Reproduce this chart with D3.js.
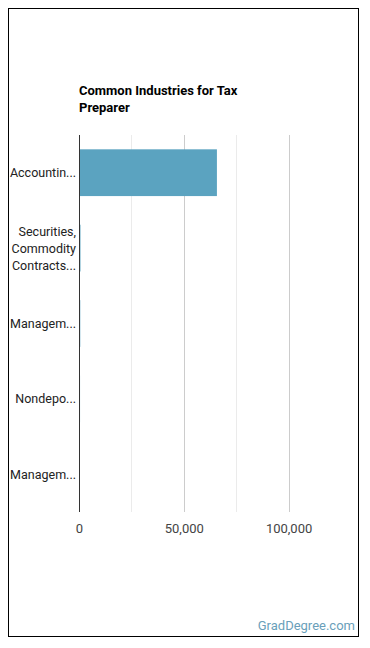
<!DOCTYPE html>
<html>
<head>
<meta charset="utf-8">
<script src="https://cdn.jsdelivr.net/npm/d3@7"></script>
<style>
	body { margin: 0; background: #fff; }
	svg { font-family: Roboto, "Noto Sans", sans-serif; }
</style>
</head>
<body>
<svg width="370" height="648"></svg>
<script>
var industries = [
	["Accountin..."],
	["Securities,", "Commodity", "Contracts..."],
	["Managem..."],
	["Nondepo..."],
	["Managem..."]
];
var workers = [65800, 700, 600, 500, 450];
var majorTicks = [0, 50000, 100000];
var minorTicks = [25000, 75000];

var svg = d3.select("svg");

// frame
svg.append("rect")
	.attr("x", 8.5).attr("y", 8.5)
	.attr("width", 350).attr("height", 628)
	.attr("fill", "#fff").attr("stroke", "#000").attr("stroke-width", 1);

var margin = { top: 135, left: 79 },
	width = 262,
	height = 377;

var g = svg.append("g").attr("transform", "translate(" + margin.left + "," + margin.top + ")");

var x = d3.scaleLinear().domain([0, 125000]).range([0, width]);
var y = d3.scaleBand().domain(d3.range(industries.length)).range([0, height]).paddingInner(0.38).paddingOuter(0.19);

// title
svg.append("text").attr("x", 79).attr("y", 95)
	.attr("font-size", "13px").attr("font-weight", "bold").attr("fill", "#000")
	.text("Common Industries for Tax");
svg.append("text").attr("x", 79).attr("y", 112)
	.attr("font-size", "13px").attr("font-weight", "bold").attr("fill", "#000")
	.text("Preparer");

// gridlines
g.selectAll(".minor")
	.data(minorTicks)
	.enter()
	.append("line")
	.attr("x1", function (d) { return Math.round(x(d)) + 0.5 })
	.attr("x2", function (d) { return Math.round(x(d)) + 0.5 })
	.attr("y1", 0).attr("y2", height)
	.attr("stroke", "#ebebeb");

g.selectAll(".major")
	.data(majorTicks.slice(1))
	.enter()
	.append("line")
	.attr("x1", function (d) { return Math.round(x(d)) + 0.5 })
	.attr("x2", function (d) { return Math.round(x(d)) + 0.5 })
	.attr("y1", 0).attr("y2", height)
	.attr("stroke", "#cccccc");

// bars
g.selectAll(".bar")
	.data(workers)
	.enter()
	.append("rect")
	.attr("x", x(0))
	.attr("y", function (d, i) { return y(i) })
	.attr("width", function (d) { return Math.max(1, x(d) - x(0)) })
	.attr("height", y.bandwidth())
	.attr("fill", "#5ba3c0");

// zero axis
g.append("line")
	.attr("x1", 0.5).attr("x2", 0.5)
	.attr("y1", 0).attr("y2", height)
	.attr("stroke", "#333");

// x tick labels
var xAxis = g.append("g")
	.attr("transform", "translate(0," + height + ")")
	.call(d3.axisBottom(x).tickValues(majorTicks).tickFormat(d3.format(",")).tickSize(0).tickPadding(12));
xAxis.select(".domain").remove();
xAxis.selectAll("text").attr("font-size", "13px").attr("fill", "#444").attr("font-family", "Roboto, sans-serif");

// category labels
var labels = g.selectAll(".label")
	.data(industries)
	.enter()
	.append("text")
	.attr("text-anchor", "end")
	.attr("font-size", "12.5px")
	.attr("fill", "#222")
	.attr("transform", function (d, i) {
		var cy = y(i) + y.bandwidth() / 2;
		return "translate(-3," + (cy - (d.length - 1) * 8.5 + 4.5) + ")";
	});
labels.selectAll("tspan")
	.data(function (d) { return d })
	.enter()
	.append("tspan")
	.attr("x", 0)
	.attr("dy", function (d, i) { return i === 0 ? 0 : 17 })
	.text(function (d) { return d });

// footer
svg.append("text").attr("x", 355).attr("y", 630)
	.attr("text-anchor", "end").attr("font-size", "13px").attr("fill", "#6a9fba")
	.text("GradDegree.com");
</script>
</body>
</html>
